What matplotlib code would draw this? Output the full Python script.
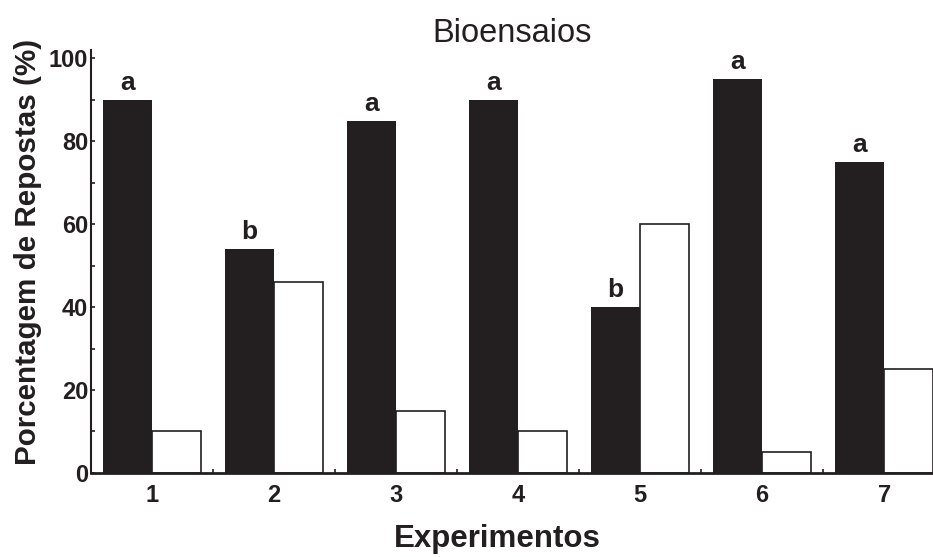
import numpy as np
import matplotlib.pyplot as plt

from matplotlib import rcParams
from matplotlib.ticker import MultipleLocator

# Figure text specs
COLOR = '#231f20'
rcParams['font.family'] = ['Liberation Sans', 'DejaVu Sans']
rcParams['text.color'] = COLOR
rcParams['axes.labelcolor'] = COLOR
rcParams['xtick.color'] = COLOR
rcParams['ytick.color'] = COLOR

# Bioassay data
experimentos = ['1', '2', '3', '4', '5', '6', '7']
resposta = [90, 54, 85, 90, 40, 95, 75]
sem_resposta = [10, 46, 15, 10, 60, 5, 25]
letras = ['a', 'b', 'a', 'a', 'b', 'a', 'a']

x = np.arange(1, len(experimentos) + 1)
width = 0.4

fig = plt.figure(figsize=(9.33, 5.57), dpi=100)
ax = fig.add_axes([0.0975, 0.151, 0.9025, 0.759])

# Paired bars: black (response) left of each tick, white right of it
bars = ax.bar(x - width/2, resposta, width=width, color=COLOR, edgecolor='none')
ax.bar(x + width/2, sem_resposta, width=width, color='white',
       edgecolor=COLOR, linewidth=1.2)

# Significance letters over the black bars
for bar, letra in zip(bars, letras):
    ax.annotate(
        letra
        ,xy=(bar.get_x() + bar.get_width()/2, bar.get_height())
        ,xytext=(0, 10)
        ,textcoords='offset pixels'
        ,ha='center'
        ,va='baseline'
        ,fontsize=19
        ,fontweight='bold')

# Axes styling
ax.set_xlim(0.5, 7.4)
ax.set_ylim(0, 102)
ax.set_xticks(x, labels=experimentos)
ax.set_yticks(np.arange(0, 101, 20))
ax.yaxis.set_minor_locator(MultipleLocator(10))
ax.xaxis.set_minor_locator(MultipleLocator(1, offset=0.5))

ax.tick_params(axis='x', which='major', length=0, pad=8, labelsize=17)
ax.tick_params(axis='x', which='minor', direction='in', length=3, width=1.2)
ax.tick_params(axis='y', which='both', direction='in', length=3, width=1.2,
               pad=2, labelsize=17)
for lbl in ax.get_xticklabels() + ax.get_yticklabels():
    lbl.set_fontweight('bold')

ax.spines['top'].set_visible(False)
ax.spines['right'].set_visible(False)
ax.spines['left'].set_linewidth(1.5)
ax.spines['bottom'].set_linewidth(2)
ax.spines['left'].set_color(COLOR)
ax.spines['bottom'].set_color(COLOR)

ax.set_title('Bioensaios', fontsize=23.5, pad=6)
ax.set_xlabel('Experimentos', fontsize=22.5, fontweight='bold')
ax.set_ylabel('Porcentagem de Repostas (%)', fontsize=21.3, fontweight='bold')
ax.xaxis.set_label_coords(0.482, -0.12)
ax.yaxis.set_label_coords(-0.058, 0.522)

fig.savefig('out.png', dpi=100)
